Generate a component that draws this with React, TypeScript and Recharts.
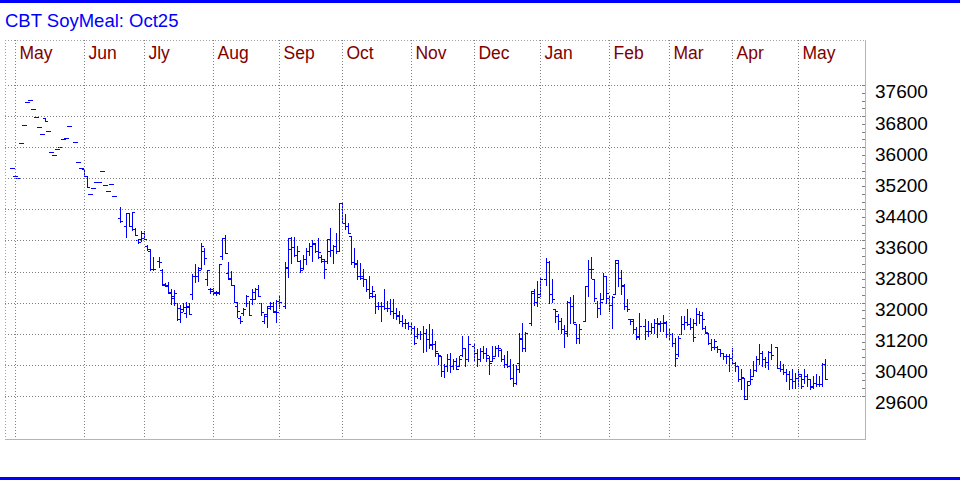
import React from 'react';
import { ComposedChart, Bar, XAxis, YAxis, ReferenceLine } from 'recharts';

// one slot per weekday, Apr 29 2024 .. May 13 2025 (null = no trade / holiday)
const highs = [
  35469, 35263, 35212, 36112, 36575, 37167, 37218, 36987, 36781, 36524,
  36344, 36755, 36421, 35881, 35804, 35958, 36009, 36215, 36241, 36549,
  null, 36138, 35623, 35469, 35443, 35263, 34800, 34955, 35109, 35109,
  35392, 35032, 34878, 35058, 34749, null, 34466, null, 34312, 34312,
  34337, 33909, 33626, 33840, 33840, 33472, 33369, 33163, null, 33163,
  32854, 32503, 32537, 32357, 32331, 31997, 31937, 31997, 32023, 31980,
  32726, 32983, 32923, 33523, 33412, 32837, 32383, 32383, 32297, 33000,
  33669, 33754, 33043, 32803, 32460, 32014, 31663, 31868, 32194, 32040,
  32357, 32374, 32460, 31997, 31697, 31911, 32023, 32023, 32066, 32177,
  null, 33043, 33669, 33686, 33694, 33454, 33086, 33231, 33412, 33540,
  33600, 33540, 33669, 33214, 33112, 33643, 33926, 33472, 33797, 34552,
  34586, 34269, 34054, 33712, 33412, 33086, 33026, 32854, 32597, 32683,
  32426, 32211, 32014, 32014, 32340, 32040, 32083, 32083, 31868, 31783,
  31671, 31586, 31500, 31483, 31397, 31354, 31268, 31397, 31311, 31440,
  31311, 31011, 30711, 30625, 30411, 30668, 30711, 30539, 30582, 30625,
  31140, 30839, 31140, null, 30925, 30797, 30839, 30882, 30839, 30625,
  30882, 30882, 30900, 30800, 30650, 30750, 30550, 30411, 30400, 31208,
  31483, 31243, null, 32297, 32340, 32554, 32666, null, 33154, 33069,
  32614, 31826, 31697, 31611, 31414, 32040, 32151, 32186, 31440, 31440,
  null, 32426, 33094, 33180, 32614, 32040, 32254, 32769, 32683, 32169,
  32169, 33094, 33094, 32837, 32469, 32083, 31586, 31568, 31380, 31740,
  null, 31586, 31526, 31483, 31568, 31611, 31526, 31671, 31526, 31328,
  31226, 31097, 31140, 31654, 31654, 31843, 31611, 31568, 31869, 31783,
  31757, 31397, 31226, 31054, 31054, 30883, 30814, 30711, 30668, 30668,
  30840, 30471, 30368, 30283, 30069, 29982, 30282, 30497, 30625, 30925,
  30754, 30608, 30754, 30925, null, 30857, 30497, 30411, 30282, 30240,
  30282, 30197, 30282, 30154, 30300, 30154, 30042, 30111, 30154, 30111,
  30454, 30540,
];

const lows = [
  35469, 35263, 35212, 36112, 36575, 37167, 37218, 36987, 36781, 36524,
  36344, 36678, 36421, 35881, 35804, 35958, 36009, 36215, 36241, 36549,
  null, 36138, 35623, 35469, 35263, 34980, 34800, 34955, 35109, 35109,
  35392, 35032, 34878, 35058, 34749, null, 34080, null, 33694, 33969,
  33866, 33737, 33540, 33583, 33643, 33343, 32837, 32837, null, 32923,
  32460, 32426, 32246, 31954, 31946, 31551, 31500, 31783, 31637, 31697,
  32083, 32529, 32546, 32854, 32983, 32443, 32237, 32211, 32186, 32211,
  33112, 33283, 32614, 32460, 32014, 31628, 31466, 31671, 31911, 31671,
  31963, 32083, 32169, 31680, 31466, 31380, 31843, 31765, 31508, 31868,
  null, 31868, 32657, 33026, 33197, 33069, 32786, 32854, 32983, 33231,
  33069, 33300, 33154, 33043, 32623, 33026, 33197, 33026, 33283, 33326,
  34054, 33883, 33780, 32983, 32923, 32614, 32597, 32426, 32297, 32126,
  32151, 31723, 31826, 31526, 31826, 31783, 31697, 31611, 31586, 31483,
  31397, 31354, 31328, 31183, 30925, 31097, 31071, 30728, 30754, 30839,
  30797, 30625, 30411, 30111, 30094, 30240, 30214, 30282, 30282, 30368,
  30625, 30368, 30497, null, 30497, 30368, 30497, 30582, 30497, 30154,
  30497, 30625, 30620, 30500, 30340, 30340, 30050, 29850, 29900, 30214,
  30754, 30754, null, 31414, 31929, 31911, 32169, null, 32443, 31997,
  32014, 31500, 31311, 31208, 30857, 31140, 31483, 31483, 30951, 30968,
  null, 31526, 32169, 32640, 32040, 31637, 31697, 32083, 31997, 31783,
  31354, 32211, 32426, 32211, 31826, 31783, 31440, 31208, 31071, 31054,
  null, 31071, 31140, 31208, 31226, 31123, 31268, 31268, 31123, 31054,
  30883, 30368, 30626, 31183, 31311, 31414, 31328, 31011, 31414, 31483,
  31328, 31226, 30926, 30780, 30814, 30728, 30626, 30540, 30454, 30240,
  30411, 30240, 29982, 29768, 29511, 29528, 29897, 30111, 30240, 30411,
  30368, 30351, 30282, 30540, null, 30325, 30240, 30154, 29982, 29785,
  29811, 29811, 29854, 29811, 29940, 29854, 29785, 29811, 29854, 29854,
  29854, 30025,
];

const opens = [
  35469, 35263, 35212, 36112, 36575, 37167, 37218, 36987, 36781, 36524,
  36344, 36755, 36421, 35881, 35804, 35958, 36009, 36215, 36241, 36549,
  null, 36138, 35623, 35469, 35443, 35263, 34800, 34955, 35109, 35109,
  35392, 35032, 34878, 35058, 34749, null, 34166, null, 33969, 34312,
  33969, 33883, 33609, 33626, 33797, 33454, 33326, 32854, null, 33069,
  32837, 32469, 32417, 32254, 32169, 31980, 31868, 31826, 31740, 31911,
  32211, 32683, 32691, 32897, 33326, 32597, 32340, 32297, 32254, 32254,
  33197, 33669, 32769, 32640, 32443, 31911, 31611, 31740, 31997, 31997,
  32083, 32100, 32340, 31980, 31526, 31654, 31911, 31997, 31783, 32040,
  null, 31911, 32897, 33369, 33429, 33214, 33069, 32897, 33112, 33326,
  33454, 33497, 33326, 33180, 33069, 33069, 33326, 33343, 33454, 33326,
  34552, 34054, 33969, 33712, 33043, 32983, 32683, 32683, 32597, 32340,
  32254, 32169, 31911, 31911, 31911, 31868, 31868, 31783, 31740, 31654,
  31526, 31483, 31466, 31397, 31354, 31140, 31183, 31183, 31225, 31071,
  30925, 30925, 30711, 30625, 30240, 30368, 30539, 30368, 30497, 30368,
  30642, 30839, 30539, null, 30882, 30711, 30557, 30754, 30694, 30582,
  30497, 30625, 30839, 30780, 30560, 30420, 30380, 30060, 29930, 30454,
  31054, 30840, null, 31483, 32254, 32023, 32211, null, 32597, 33043,
  32211, 31826, 31654, 31526, 31311, 31226, 32023, 31911, 31440, 31080,
  null, 31526, 32426, 32872, 32597, 31997, 31869, 32083, 32683, 32126,
  31929, 32211, 33026, 32640, 32426, 31911, 31568, 31526, 31311, 31140,
  null, 31397, 31268, 31268, 31380, 31483, 31440, 31483, 31483, 31183,
  31183, 30968, 30668, 31183, 31440, 31500, 31440, 31380, 31483, 31697,
  31671, 31354, 31208, 30968, 30866, 30866, 30797, 30694, 30626, 30626,
  30583, 30454, 30368, 30025, 30069, 29597, 29982, 30111, 30265, 30557,
  30694, 30557, 30471, 30728, null, 30857, 30325, 30300, 30214, 30154,
  30042, 29982, 30068, 30111, 30025, 30111, 30025, 29854, 29940, 29897,
  29897, 30411,
];

const closes = [
  35469, 35263, 35212, 36112, 36575, 37167, 37218, 36987, 36781, 36524,
  36344, 36678, 36421, 35881, 35804, 35958, 36009, 36215, 36241, 36549,
  null, 36138, 35623, 35469, 35263, 34980, 34800, 34955, 35109, 35109,
  35392, 35032, 34878, 35058, 34749, null, 34097, null, 34312, 33969,
  34337, 33754, 33557, 33669, 33643, 33369, 32854, 32854, null, 33034,
  32460, 32443, 32271, 32108, 32254, 31577, 31765, 31886, 31894, 31714,
  32691, 32691, 32846, 33454, 33154, 32837, 32340, 32271, 32271, 33000,
  33669, 33283, 32614, 32460, 32014, 31783, 31526, 31843, 32169, 31671,
  32280, 32340, 32169, 31765, 31697, 31868, 31911, 31765, 31765, 32023,
  null, 32914, 33669, 33429, 33214, 33334, 32837, 33112, 33326, 33454,
  33540, 33326, 33300, 33112, 32854, 33643, 33343, 33454, 33326, 34552,
  34054, 33969, 33780, 33043, 33026, 32683, 32640, 32614, 32340, 32169,
  32297, 31911, 31911, 31911, 31868, 31868, 31783, 31723, 31671, 31526,
  31483, 31466, 31397, 31354, 30951, 31183, 31183, 31225, 31071, 30900,
  30925, 30754, 30642, 30240, 30368, 30539, 30368, 30497, 30300, 30539,
  30839, 30539, 30925, null, 30711, 30557, 30754, 30694, 30642, 30454,
  30582, 30839, 30839, 30560, 30420, 30380, 30060, 29930, 30300, 31097,
  30840, 31226, null, 32297, 32023, 32151, 32614, null, 33043, 32211,
  32100, 31783, 31526, 31311, 31268, 32023, 31911, 31500, 31080, 31328,
  null, 32426, 32872, 32872, 32126, 31869, 32014, 32683, 32254, 31929,
  32151, 33094, 32640, 32443, 31911, 31826, 31568, 31328, 31123, 31397,
  null, 31268, 31268, 31380, 31483, 31483, 31483, 31500, 31183, 31183,
  30968, 30583, 31097, 31440, 31500, 31440, 31380, 31123, 31697, 31671,
  31568, 31243, 30968, 30866, 31011, 30797, 30694, 30626, 30626, 30583,
  30454, 30368, 30025, 30094, 29528, 29871, 30025, 30265, 30557, 30694,
  30557, 30471, 30728, 30642, null, 30325, 30300, 30214, 30154, 30042,
  29982, 30068, 30154, 29854, 30111, 30025, 29837, 29940, 29897, 29897,
  30411, 30042,
];

// slot where each month's gridline sits
const monthSlots = [1, 24, 44, 67, 89, 110, 133, 154, 176, 199, 219, 240, 262];
const monthNames = ['May', 'Jun', 'Jly', 'Aug', 'Sep', 'Oct', 'Nov', 'Dec', 'Jan', 'Feb', 'Mar', 'Apr', 'May'];
const priceLabels = [29600, 30400, 31200, 32000, 32800, 33600, 34400, 35200, 36000, 36800, 37600];

const BLUE = '#0000ff';
const GRID = '#808080';
const FONT = "'Liberation Sans', Arial, sans-serif";

const rows = highs.map((h, i) => ({
  slot: i,
  range: h == null ? null : [lows[i], h],
  h,
  l: lows[i],
  o: opens[i],
  c: closes[i],
}));

// small ticks every 200 on the price scale
const minorTicks: number[] = [];
priceLabels.forEach((v, i) => {
  minorTicks.push(v);
  if (i < priceLabels.length - 1) minorTicks.push(v + 200, v + 400, v + 600);
});

function OhlcShape(props: any) {
  const { x, y, width, height, payload } = props;
  if (!payload || payload.h == null || x == null || y == null) return null;
  const col = Math.floor(x + width / 2);
  const top = Math.min(y, y + height);
  const span = Math.abs(height);
  const range = payload.h - payload.l;
  const py = (v: number) => (range > 0 ? top + ((payload.h - v) / range) * span : top);
  const yTop = Math.floor(top);
  const yBot = Math.floor(top + span);
  return (
    <g fill={BLUE}>
      <rect x={col} y={yTop} width={1} height={Math.max(1, yBot - yTop + 1)} />
      <rect x={col - 2} y={Math.floor(py(payload.o))} width={2} height={1} />
      <rect x={col + 1} y={Math.floor(py(payload.c))} width={2} height={1} />
    </g>
  );
}

// grid line snapped to the pixel grid so the dots stay sharp
function DottedLine(props: any) {
  const { x1, y1, x2, y2 } = props;
  if (x1 == null || y1 == null) return null;
  if (Math.abs(x1 - x2) < 0.01) {
    const x = Math.floor(x1) + 0.5;
    return <line x1={x} x2={x} y1={Math.min(y1, y2)} y2={Math.max(y1, y2)} stroke={GRID} strokeDasharray="1 2" />;
  }
  const y = Math.floor(y1) + 0.5;
  return <line x1={Math.min(x1, x2)} x2={Math.max(x1, x2)} y1={y} y2={y} stroke={GRID} strokeDasharray="1 2" />;
}

function PriceTick(props: any) {
  const { x, y, payload } = props;
  const v = payload.value;
  const edge = x - 10;
  const row = Math.floor(y) + 0.5;
  return (
    <g>
      <line x1={edge - 3} x2={edge} y1={row} y2={row} stroke={GRID} />
      {priceLabels.includes(v) && (
        <text x={x} y={y + 13} fill="#000" fontSize={19} fontFamily={FONT}>
          {v}
        </text>
      )}
    </g>
  );
}

function MonthLabel(props: any) {
  const { viewBox, name } = props;
  if (!viewBox) return null;
  return (
    <text x={viewBox.x + 4} y={59} fill="#800000" fontSize={17.5} fontFamily={FONT}>
      {name}
    </text>
  );
}

export default function App() {
  return (
    <div style={{ position: 'relative', width: 960, height: 480, background: '#fff' }}>
      <style>{'body{margin:0}'}</style>
      <ComposedChart width={960} height={480} data={rows} margin={{ top: 40, right: 0, bottom: 40, left: 5 }}>
        <XAxis dataKey="slot" type="number" domain={[-2.5, 284.1667]} allowDataOverflow hide />
        <YAxis
          orientation="right"
          width={95}
          domain={[28481, 38770]}
          allowDataOverflow
          ticks={minorTicks}
          interval={0}
          tickLine={false}
          axisLine={false}
          tickSize={10}
          tickMargin={0}
          tick={<PriceTick />}
        />
        {priceLabels.map((v) => (
          <ReferenceLine key={v} y={v} stroke={GRID} shape={DottedLine} />
        ))}
        {monthSlots.map((s, i) => (
          <ReferenceLine
            key={'m' + i}
            x={s}
            stroke={GRID}
            shape={DottedLine}
            label={<MonthLabel name={monthNames[i]} />}
          />
        ))}
        <Bar dataKey="range" barSize={3} isAnimationActive={false} shape={<OhlcShape />} />
      </ComposedChart>
      <svg width={960} height={480} style={{ position: 'absolute', left: 0, top: 0, pointerEvents: 'none' }}>
        <rect x={0} y={0} width={960} height={3} fill={BLUE} />
        <rect x={0} y={477} width={960} height={3} fill={BLUE} />
        <text x={5} y={27} fill={BLUE} fontSize={18.5} fontFamily={FONT}>
          CBT SoyMeal: Oct25
        </text>
        <line x1={5} x2={865} y1={40.5} y2={40.5} stroke="#a0a0a0" strokeDasharray="1 2" />
        <line x1={5.5} x2={5.5} y1={40} y2={440} stroke="#a0a0a0" strokeDasharray="1 2" />
        <line x1={865.5} x2={865.5} y1={40} y2={440} stroke="#b4b4b4" />
        <line x1={5} x2={866} y1={439.5} y2={439.5} stroke="#b4b4b4" />
      </svg>
    </div>
  );
}
